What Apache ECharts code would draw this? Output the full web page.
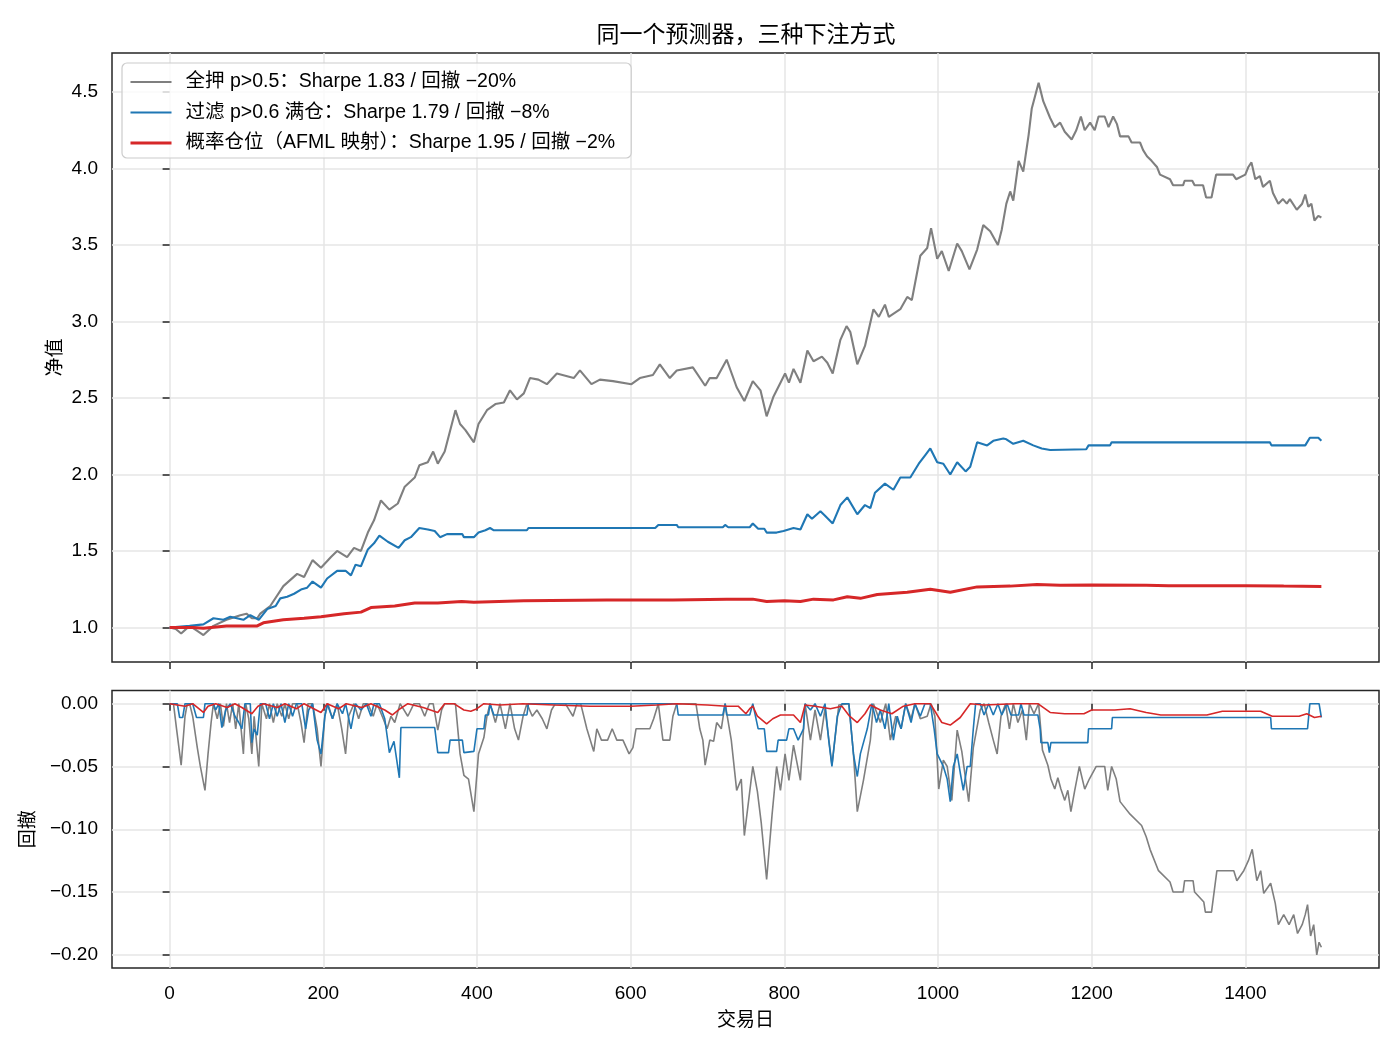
<!DOCTYPE html>
<html>
<head>
<meta charset="utf-8">
<script src="https://cdn.jsdelivr.net/npm/echarts@6/dist/echarts.min.js"></script>
<style>html,body{margin:0;padding:0;background:#fff}#c{width:1400px;height:1050px}</style>
</head>
<body>
<div id="c"></div>
<script>
// ---------- data ----------
const titleText = '同一个预测器，三种下注方式';
const seriesNames = [
  '全押 p>0.5：Sharpe 1.83 / 回撤 −20%',
  '过滤 p>0.6 满仓：Sharpe 1.79 / 回撤 −8%',
  '概率仓位（AFML 映射）：Sharpe 1.95 / 回撤 −2%'
];
const xTicks = [0, 200, 400, 600, 800, 1000, 1200, 1400];
const navTicks = [1.0, 1.5, 2.0, 2.5, 3.0, 3.5, 4.0, 4.5];
const ddTicks = [-0.20, -0.15, -0.10, -0.05, 0.00];

// equity curves: [trading day, net value]
const grayNav = [[0,1.00],[8,0.99],[15,0.96],[26,1.01],[35,0.98],[44,0.95],[57,1.01],[74,1.05],[92,1.08],[100,1.09],[107,1.06],[114,1.06],[118,1.09],[131,1.14],[148,1.27],[166,1.35],[175,1.33],[186,1.44],[197,1.39],[210,1.46],[218,1.50],[231,1.46],[240,1.52],[249,1.50],[258,1.62],[266,1.70],[275,1.83],[286,1.77],[297,1.81],[306,1.92],[319,1.98],[325,2.06],[336,2.08],[343,2.15],[349,2.07],[358,2.15],[372,2.42],[378,2.33],[385,2.29],[396,2.21],[402,2.33],[413,2.42],[424,2.46],[435,2.47],[443,2.55],[452,2.49],[461,2.53],[469,2.63],[480,2.62],[491,2.59],[504,2.66],[526,2.63],[534,2.68],[549,2.59],[560,2.62],[577,2.61],[601,2.59],[612,2.63],[629,2.65],[638,2.72],[651,2.63],[660,2.68],[681,2.70],[697,2.58],[703,2.63],[712,2.63],[725,2.75],[738,2.57],[748,2.48],[759,2.61],[769,2.55],[777,2.38],[786,2.51],[795,2.60],[801,2.66],[806,2.60],[812,2.69],[821,2.60],[830,2.81],[838,2.74],[849,2.77],[856,2.73],[863,2.66],[873,2.88],[881,2.97],[886,2.93],[895,2.72],[905,2.84],[916,3.08],[923,3.03],[931,3.11],[936,3.03],[951,3.08],[960,3.16],[966,3.14],[977,3.43],[986,3.48],[991,3.61],[999,3.41],[1005,3.46],[1014,3.33],[1025,3.51],[1031,3.46],[1041,3.34],[1051,3.47],[1059,3.63],[1068,3.59],[1078,3.50],[1083,3.60],[1089,3.77],[1094,3.85],[1098,3.79],[1105,4.05],[1111,3.98],[1118,4.22],[1122,4.39],[1131,4.56],[1137,4.44],[1146,4.33],[1152,4.27],[1159,4.30],[1165,4.24],[1174,4.19],[1180,4.25],[1186,4.34],[1191,4.25],[1198,4.30],[1204,4.25],[1209,4.34],[1217,4.34],[1222,4.27],[1228,4.34],[1233,4.29],[1237,4.21],[1248,4.21],[1252,4.17],[1263,4.17],[1267,4.12],[1272,4.08],[1278,4.05],[1285,4.01],[1289,3.96],[1302,3.93],[1306,3.89],[1319,3.89],[1321,3.92],[1331,3.92],[1334,3.89],[1345,3.89],[1349,3.81],[1356,3.81],[1362,3.96],[1384,3.96],[1388,3.93],[1400,3.96],[1404,4.01],[1408,4.04],[1413,3.93],[1419,3.95],[1423,3.88],[1432,3.92],[1436,3.84],[1443,3.77],[1449,3.80],[1454,3.77],[1458,3.80],[1467,3.73],[1474,3.77],[1478,3.83],[1482,3.75],[1486,3.77],[1490,3.66],[1495,3.69],[1499,3.68]];

const blueNav = [[0,1.00],[26,1.01],[44,1.02],[57,1.06],[70,1.05],[79,1.07],[96,1.05],[105,1.08],[116,1.05],[127,1.12],[138,1.14],[144,1.19],[153,1.20],[162,1.22],[172,1.25],[179,1.26],[186,1.30],[197,1.26],[205,1.32],[218,1.37],[229,1.37],[236,1.34],[242,1.41],[249,1.40],[258,1.51],[266,1.55],[273,1.60],[284,1.56],[298,1.52],[306,1.57],[314,1.59],[325,1.65],[336,1.64],[345,1.63],[352,1.59],[361,1.61],[381,1.61],[383,1.59],[396,1.59],[402,1.62],[411,1.635],[417,1.65],[422,1.635],[465,1.635],[467,1.65],[632,1.65],[636,1.67],[660,1.67],[662,1.655],[720,1.655],[723,1.67],[727,1.655],[755,1.655],[759,1.68],[766,1.645],[774,1.645],[777,1.62],[790,1.62],[799,1.63],[812,1.65],[821,1.64],[830,1.74],[836,1.71],[847,1.76],[853,1.73],[863,1.68],[873,1.80],[882,1.85],[895,1.74],[905,1.80],[912,1.78],[918,1.88],[931,1.94],[942,1.90],[951,1.98],[964,1.98],[975,2.07],[984,2.13],[990,2.17],[999,2.08],[1007,2.07],[1016,2.00],[1025,2.08],[1036,2.02],[1042,2.05],[1051,2.21],[1064,2.19],[1072,2.22],[1085,2.235],[1089,2.23],[1098,2.20],[1111,2.22],[1124,2.19],[1135,2.17],[1146,2.16],[1193,2.165],[1196,2.19],[1224,2.19],[1226,2.21],[1432,2.21],[1434,2.19],[1478,2.19],[1484,2.24],[1495,2.24],[1499,2.22]];

const redNav = [[0,1.00],[31,1.00],[44,0.995],[74,1.01],[114,1.01],[122,1.03],[148,1.05],[175,1.06],[197,1.07],[227,1.09],[249,1.10],[262,1.13],[293,1.14],[319,1.16],[349,1.16],[380,1.17],[396,1.165],[461,1.175],[569,1.18],[655,1.18],[725,1.185],[759,1.185],[777,1.17],[800,1.175],[821,1.17],[838,1.185],[864,1.18],[882,1.20],[899,1.19],[921,1.215],[960,1.23],[990,1.25],[1003,1.24],[1016,1.23],[1051,1.265],[1094,1.27],[1129,1.28],[1159,1.275],[1200,1.278],[1271,1.275],[1300,1.272],[1400,1.273],[1450,1.27],[1499,1.268]];

// drawdown curves: [trading day, drawdown]
const grayDD = [[0,0],[5,0],[9,-0.02],[15,-0.049],[20,-0.01],[23,0],[26,0],[30,-0.01],[36,-0.035],[40,-0.05],[46,-0.069],[50,-0.04],[54,-0.015],[57,0],[62,-0.012],[66,0],[70,-0.018],[74,0],[78,-0.015],[82,0],[86,-0.02],[90,0],[96,-0.04],[99,0],[103,-0.012],[107,-0.04],[110,-0.01],[116,-0.05],[120,0],[126,-0.012],[130,0],[135,-0.015],[140,0],[146,-0.01],[150,0],[155,-0.012],[160,0],[166,0],[171,-0.015],[175,-0.031],[180,0],[186,0],[192,-0.02],[197,-0.05],[202,-0.01],[206,0],[212,-0.012],[218,0],[224,-0.02],[229,-0.04],[233,-0.01],[240,0],[246,-0.012],[252,0],[258,0],[265,-0.01],[270,0],[278,-0.012],[283,-0.02],[288,-0.01],[293,-0.015],[300,0],[310,-0.01],[318,0],[325,0],[332,-0.01],[338,0],[343,0],[349,-0.021],[354,-0.005],[358,0],[366,0],[372,0],[378,-0.04],[383,-0.057],[389,-0.06],[396,-0.086],[402,-0.04],[409,-0.027],[413,-0.01],[417,0],[424,-0.015],[430,0],[437,-0.02],[443,0],[449,-0.02],[454,-0.029],[460,-0.01],[465,0],[472,-0.01],[478,-0.005],[485,-0.012],[491,-0.02],[497,-0.005],[502,0],[515,0],[525,-0.01],[530,0],[535,0],[543,-0.02],[552,-0.038],[556,-0.02],[562,-0.029],[570,-0.029],[576,-0.02],[582,-0.029],[590,-0.029],[598,-0.04],[603,-0.035],[607,-0.02],[625,-0.02],[630,-0.012],[636,0],[642,-0.029],[651,-0.029],[655,-0.01],[660,0],[675,0],[685,0],[690,-0.02],[694,-0.029],[697,-0.049],[703,-0.029],[708,-0.03],[712,-0.015],[718,-0.02],[723,0],[731,-0.029],[738,-0.069],[744,-0.06],[748,-0.105],[755,-0.07],[759,-0.05],[765,-0.07],[770,-0.095],[777,-0.14],[784,-0.089],[790,-0.05],[795,-0.069],[801,-0.04],[806,-0.061],[812,-0.033],[821,-0.061],[827,0],[834,-0.029],[840,-0.005],[847,-0.029],[853,-0.004],[862,-0.049],[871,-0.001],[884,0],[890,-0.04],[895,-0.086],[903,-0.061],[912,-0.029],[916,0],[925,-0.015],[932,0],[938,-0.029],[945,-0.01],[952,-0.02],[958,0],[965,-0.012],[970,0],[977,-0.012],[986,-0.01],[991,0],[996,-0.01],[1001,-0.068],[1007,-0.045],[1012,-0.05],[1018,-0.077],[1025,-0.021],[1031,-0.038],[1040,-0.078],[1046,-0.035],[1055,-0.005],[1060,0],[1066,-0.015],[1072,-0.029],[1077,-0.04],[1082,-0.01],[1088,0],[1093,-0.02],[1098,0],[1104,-0.015],[1110,-0.005],[1115,-0.029],[1119,0],[1125,-0.008],[1131,0],[1136,-0.037],[1143,-0.049],[1147,-0.06],[1152,-0.068],[1156,-0.059],[1160,-0.068],[1165,-0.077],[1169,-0.069],[1173,-0.086],[1178,-0.069],[1184,-0.05],[1191,-0.068],[1197,-0.06],[1206,-0.05],[1217,-0.05],[1221,-0.069],[1226,-0.05],[1232,-0.06],[1237,-0.078],[1250,-0.088],[1265,-0.097],[1271,-0.106],[1276,-0.116],[1287,-0.133],[1302,-0.142],[1306,-0.15],[1319,-0.15],[1321,-0.141],[1332,-0.141],[1334,-0.15],[1346,-0.158],[1348,-0.166],[1356,-0.166],[1363,-0.133],[1385,-0.133],[1389,-0.141],[1398,-0.133],[1404,-0.125],[1409,-0.116],[1415,-0.141],[1420,-0.133],[1424,-0.151],[1433,-0.143],[1439,-0.159],[1443,-0.176],[1450,-0.168],[1457,-0.176],[1463,-0.168],[1468,-0.183],[1474,-0.176],[1478,-0.168],[1481,-0.16],[1485,-0.185],[1489,-0.176],[1493,-0.2],[1496,-0.19],[1499,-0.194]];

const blueDD = [[0,0],[10,0],[13,-0.011],[17,-0.011],[20,0],[30,0],[35,-0.011],[44,-0.011],[46,0],[57,0],[60,-0.005],[64,0],[68,-0.019],[73,-0.005],[79,0],[85,-0.01],[90,-0.015],[94,-0.02],[98,0],[105,0],[107,-0.031],[110,-0.02],[114,-0.025],[118,0],[125,0],[130,-0.012],[135,0],[140,-0.01],[145,0],[150,-0.015],[155,0],[160,-0.01],[165,0],[172,0],[177,-0.02],[181,-0.005],[186,0],[192,-0.029],[197,-0.04],[202,-0.01],[205,0],[212,-0.012],[218,0],[225,-0.008],[229,0],[236,-0.02],[242,0],[249,-0.005],[256,0],[262,-0.01],[266,0],[273,0],[280,-0.012],[286,-0.039],[292,-0.03],[299,-0.059],[301,-0.019],[345,-0.019],[349,-0.039],[363,-0.039],[365,-0.029],[381,-0.029],[383,-0.039],[396,-0.038],[400,-0.02],[409,-0.02],[411,-0.009],[415,-0.009],[417,0],[422,-0.009],[465,-0.009],[467,0],[660,0],[662,-0.009],[720,-0.009],[723,0],[725,-0.009],[755,-0.009],[759,0],[766,-0.02],[774,-0.02],[777,-0.038],[790,-0.038],[792,-0.029],[803,-0.029],[806,-0.02],[812,-0.02],[818,-0.029],[825,-0.02],[827,0],[834,-0.005],[840,0],[847,-0.01],[853,0],[858,-0.03],[862,-0.05],[869,-0.01],[875,0],[884,0],[890,-0.04],[895,-0.058],[899,-0.04],[908,-0.02],[914,0],[920,-0.015],[925,-0.005],[931,-0.02],[936,0],[942,-0.029],[947,-0.01],[952,-0.02],[958,0],[965,-0.015],[970,0],[977,-0.01],[983,0],[990,0],[995,-0.02],[999,-0.04],[1007,-0.05],[1012,-0.06],[1016,-0.078],[1020,-0.05],[1025,-0.04],[1029,-0.055],[1033,-0.069],[1038,-0.05],[1042,-0.05],[1046,-0.02],[1049,0],[1055,0],[1060,-0.009],[1066,0],[1072,-0.009],[1078,0],[1083,-0.009],[1090,0],[1095,-0.009],[1105,-0.009],[1108,0],[1112,-0.009],[1130,-0.009],[1133,-0.02],[1134,-0.031],[1143,-0.031],[1145,-0.039],[1147,-0.031],[1195,-0.031],[1196,-0.02],[1226,-0.02],[1227,-0.011],[1433,-0.011],[1434,-0.02],[1481,-0.02],[1484,0],[1496,0],[1499,-0.011]];

const redDD = [[0,0],[20,-0.002],[30,0],[44,-0.007],[50,-0.002],[60,0],[75,-0.003],[85,0],[94,-0.003],[107,-0.008],[115,-0.002],[122,0],[140,-0.003],[150,0],[165,-0.004],[175,0],[197,-0.007],[205,0],[220,-0.004],[230,0],[250,-0.003],[262,0],[280,-0.005],[290,-0.009],[300,-0.004],[310,0],[330,-0.003],[349,-0.007],[358,0],[370,0],[383,-0.005],[392,-0.006],[400,-0.004],[409,0],[430,-0.001],[460,0],[500,-0.001],[547,-0.002],[600,-0.002],[634,-0.001],[660,0],[700,-0.001],[725,-0.002],[740,-0.002],[750,-0.008],[755,-0.004],[759,-0.002],[765,-0.01],[777,-0.016],[785,-0.012],[795,-0.009],[812,-0.009],[821,-0.015],[827,-0.001],[840,-0.002],[860,-0.004],[875,-0.002],[885,-0.01],[895,-0.015],[905,-0.008],[912,-0.001],[925,-0.005],[940,-0.008],[955,-0.002],[970,0],[990,0],[1005,-0.015],[1016,-0.017],[1029,-0.011],[1042,0],[1060,-0.001],[1100,0],[1130,0],[1146,-0.007],[1165,-0.008],[1190,-0.008],[1200,-0.005],[1230,-0.005],[1250,-0.004],[1271,-0.007],[1290,-0.009],[1350,-0.009],[1370,-0.006],[1420,-0.006],[1435,-0.01],[1470,-0.01],[1480,-0.008],[1490,-0.011],[1499,-0.01]];

// ---------- chart ----------
const FONT = '"Liberation Sans", "Noto Sans CJK SC", sans-serif';
const colors = ['#7f7f7f', '#1f77b4', '#d62728'];
const navWidths = [2.1, 2.1, 3.0];
const SPINE = '#262626';
const GRIDC = '#e6e6e6';
const FS = 19;

function xAxisCfg(gi, showLabel, name) {
  return {
    type: 'value', gridIndex: gi, min: -75, max: 1574,
    axisLine: { show: false },
    axisTick: { show: true, customValues: xTicks, length: 7, lineStyle: { color: SPINE, width: 1.5 } },
    axisLabel: { show: showLabel, customValues: xTicks, formatter: v => String(Math.round(v)), margin: 16, color: '#000', fontSize: FS, fontFamily: FONT },
    splitLine: { show: true, lineStyle: { color: GRIDC, width: 1.5 } },
    name: name || '', nameLocation: 'middle', nameGap: 43, nameMoveOverlap: false,
    nameTextStyle: { color: '#000', fontSize: FS, fontFamily: FONT }
  };
}
function yAxisCfg(gi, min, max, ticks, fmt, name, gap) {
  return {
    type: 'value', gridIndex: gi, min: min, max: max,
    axisLine: { show: false },
    axisTick: { show: true, customValues: ticks, length: 7, lineStyle: { color: SPINE, width: 1.5 } },
    axisLabel: { customValues: ticks, formatter: fmt, margin: 14, color: '#000', fontSize: FS, fontFamily: FONT, padding: [5, 0, 0, 0] },
    splitLine: { show: true, lineStyle: { color: GRIDC, width: 1.5 } },
    name: name, nameLocation: 'middle', nameGap: gap, nameRotate: 90, nameMoveOverlap: false,
    nameTextStyle: { color: '#000', fontSize: FS, fontFamily: FONT }
  };
}
function lineSeries(name, data, color, width, gi) {
  return {
    type: 'line', name: name, data: data, xAxisIndex: gi, yAxisIndex: gi,
    symbol: 'none', showSymbol: false, smooth: false,
    lineStyle: { color: color, width: width }, itemStyle: { color: color },
    emphasis: { disabled: true }, silent: true
  };
}

const option = {
  animation: false,
  backgroundColor: '#fff',
  textStyle: { fontFamily: FONT },
  title: {
    text: titleText, left: 741, top: 19, textAlign: 'center',
    textStyle: { fontSize: 23, fontWeight: 'normal', color: '#000', fontFamily: FONT }
  },
  legend: {
    data: seriesNames.map((n, i) => ({ name: n, lineStyle: { color: colors[i], width: navWidths[i] } })),
    orient: 'vertical', left: 122, top: 63,
    itemWidth: 41, itemHeight: 18, itemGap: 10.5,
    padding: [9, 16, 5, 7],
    backgroundColor: 'rgba(255,255,255,0.8)', borderColor: '#cccccc', borderWidth: 1.2, borderRadius: 5,
    selectedMode: false,
    itemStyle: { opacity: 0 },
    textStyle: { fontSize: 19.5, color: '#000', fontFamily: FONT, padding: [0, 0, 0, 9], lineHeight: 20 }
  },
  grid: [
    { left: 112, top: 53, width: 1267, height: 609, show: true, borderColor: SPINE, borderWidth: 1.5, backgroundColor: 'transparent' },
    { left: 112, top: 690.5, width: 1267, height: 277.5, show: true, borderColor: SPINE, borderWidth: 1.5, backgroundColor: 'transparent' }
  ],
  xAxis: [xAxisCfg(0, false), xAxisCfg(1, true, '交易日')],
  yAxis: [
    yAxisCfg(0, 0.774, 4.755, navTicks, v => v.toFixed(1), '净值', 47),
    yAxisCfg(1, -0.2105, 0.0105, ddTicks, v => (v < -1e-9 ? '\u2212' : '') + Math.abs(v).toFixed(2), '回撤', 74)
  ],
  series: [
    lineSeries(seriesNames[0], grayNav, colors[0], navWidths[0], 0),
    lineSeries(seriesNames[1], blueNav, colors[1], navWidths[1], 0),
    lineSeries(seriesNames[2], redNav, colors[2], navWidths[2], 0),
    lineSeries(seriesNames[0], grayDD, colors[0], 1.6, 1),
    lineSeries(seriesNames[1], blueDD, colors[1], 1.6, 1),
    lineSeries(seriesNames[2], redDD, colors[2], 1.6, 1)
  ]
};
const chart = echarts.init(document.getElementById('c'), null, { renderer: 'canvas', width: 1400, height: 1050 });
chart.setOption(option);
</script>
</body>
</html>
